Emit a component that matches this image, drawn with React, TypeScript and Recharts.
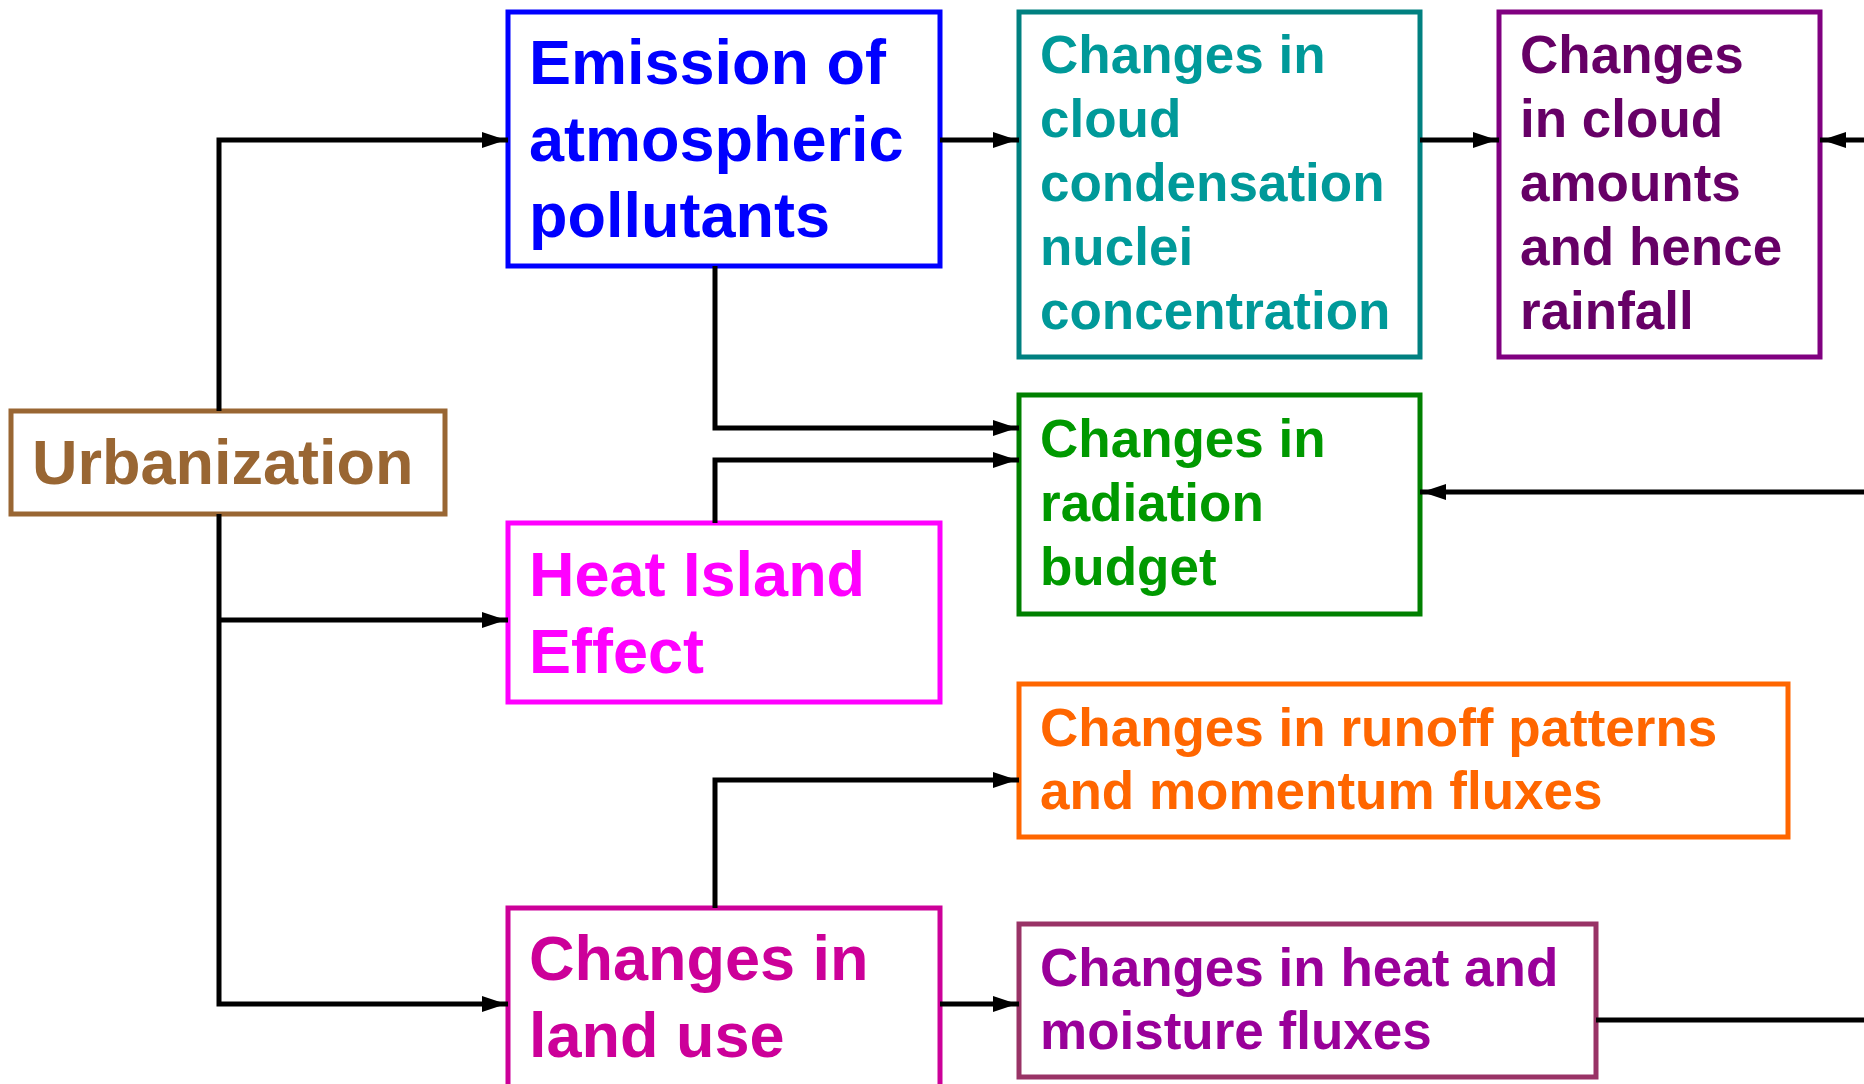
import { ComposedChart, Line, ReferenceArea, Scatter, XAxis, YAxis } from "recharts";

// diagram coordinates (same units as the picture, y grows downward)
const boxIds = ["urban", "emission", "heat", "land", "ccn", "cloud", "radiation", "runoff", "flux"];
const boxLeft = [11, 508, 508, 508, 1019, 1499, 1019, 1019, 1019];
const boxRight = [445, 940, 940, 940, 1420, 1820, 1420, 1788, 1596];
const boxTop = [411, 12, 523, 908, 12, 12, 395, 684, 924];
const boxBottom = [514, 266, 702, 1096, 357, 357, 614, 837, 1077];
const boxLines = [
  ["Urbanization"],
  ["Emission of", "atmospheric", "pollutants"],
  ["Heat Island", "Effect"],
  ["Changes in", "land use"],
  ["Changes in", "cloud", "condensation", "nuclei", "concentration"],
  ["Changes", "in cloud", "amounts", "and hence", "rainfall"],
  ["Changes in", "radiation", "budget"],
  ["Changes in runoff patterns", "and momentum fluxes"],
  ["Changes in heat and", "moisture fluxes"],
];

const connectors = [
  [{ x: 219, y: 411 }, { x: 219, y: 140 }, { x: 508, y: 140 }],
  [{ x: 219, y: 514 }, { x: 219, y: 1004 }, { x: 508, y: 1004 }],
  [{ x: 219, y: 620 }, { x: 508, y: 620 }],
  [{ x: 940, y: 140 }, { x: 1019, y: 140 }],
  [{ x: 1420, y: 140 }, { x: 1499, y: 140 }],
  [{ x: 1864, y: 140 }, { x: 1820, y: 140 }],
  [{ x: 715, y: 266 }, { x: 715, y: 428 }, { x: 1019, y: 428 }],
  [{ x: 715, y: 523 }, { x: 715, y: 460 }, { x: 1019, y: 460 }],
  [{ x: 1864, y: 492 }, { x: 1420, y: 492 }],
  [{ x: 715, y: 908 }, { x: 715, y: 780 }, { x: 1019, y: 780 }],
  [{ x: 940, y: 1004 }, { x: 1019, y: 1004 }],
  [{ x: 1596, y: 1020 }, { x: 1864, y: 1020 }],
];

const arrowHeads = [
  { x: 506, y: 140, dir: "r" },
  { x: 506, y: 620, dir: "r" },
  { x: 506, y: 1004, dir: "r" },
  { x: 1017, y: 140, dir: "r" },
  { x: 1497, y: 140, dir: "r" },
  { x: 1822, y: 140, dir: "l" },
  { x: 1017, y: 428, dir: "r" },
  { x: 1017, y: 460, dir: "r" },
  { x: 1422, y: 492, dir: "l" },
  { x: 1017, y: 780, dir: "r" },
  { x: 1017, y: 1004, dir: "r" },
];

const boxStyle: Record<string, { border: string; text: string; size: number; lh: number; first: number }> = {
  urban: { border: "#996633", text: "#996633", size: 63, lh: 76, first: 73 },
  emission: { border: "#0000FF", text: "#0000FF", size: 63, lh: 76.5, first: 72 },
  heat: { border: "#FF00FF", text: "#FF00FF", size: 63, lh: 77, first: 73 },
  land: { border: "#CC0099", text: "#CC0099", size: 63, lh: 77, first: 72 },
  ccn: { border: "#008080", text: "#009999", size: 53, lh: 64, first: 61 },
  cloud: { border: "#800080", text: "#660066", size: 53, lh: 64, first: 61 },
  radiation: { border: "#008000", text: "#009900", size: 53, lh: 64, first: 62 },
  runoff: { border: "#FF6600", text: "#FF6600", size: 53, lh: 63, first: 62 },
  flux: { border: "#993366", text: "#990099", size: 53, lh: 63, first: 62 },
};

function BoxText(props: any) {
  const { viewBox, lines, st } = props;
  if (!viewBox) return null;
  return (
    <text
      x={viewBox.x + 21}
      y={viewBox.y + st.first}
      fill={st.text}
      fontFamily="'Liberation Sans', Arial, sans-serif"
      fontWeight="bold"
      fontSize={st.size}
    >
      {lines.map((l: string, i: number) => (
        <tspan key={i} x={viewBox.x + 21} y={viewBox.y + st.first + i * st.lh}>
          {l}
        </tspan>
      ))}
    </text>
  );
}

function ArrowHead(props: any) {
  const { cx, cy, payload } = props;
  const len = 24;
  const hw = 8;
  const back = payload.dir === "r" ? cx - len : cx + len;
  return <polygon points={`${cx},${cy} ${back},${cy - hw} ${back},${cy + hw}`} fill="#000" />;
}

export default function App() {
  return (
    <div style={{ width: 1864, height: 1084, background: "#fff" }}>
      <style>{"body{margin:0}"}</style>
      <ComposedChart width={1864} height={1084} margin={{ top: 0, right: 0, bottom: 0, left: 0 }}>
        <XAxis type="number" dataKey="x" domain={[0, 1864]} hide />
        <YAxis type="number" dataKey="y" domain={[0, 1084]} reversed hide />
        {boxIds.map((id, i) => (
          <ReferenceArea
            key={id}
            x1={boxLeft[i]}
            x2={boxRight[i]}
            y1={boxTop[i]}
            y2={boxBottom[i]}
            ifOverflow="visible"
            fill="#fff"
            fillOpacity={1}
            stroke={boxStyle[id].border}
            strokeWidth={5}
            label={<BoxText lines={boxLines[i]} st={boxStyle[id]} />}
          />
        ))}
        {connectors.map((pts, i) => (
          <Line
            key={"c" + i}
            name={"c" + i}
            data={pts}
            dataKey="y"
            type="linear"
            stroke="#000"
            strokeWidth={5}
            dot={false}
            activeDot={false}
            isAnimationActive={false}
            legendType="none"
          />
        ))}
        <Scatter data={arrowHeads} dataKey="y" shape={ArrowHead} isAnimationActive={false} legendType="none" />
      </ComposedChart>
    </div>
  );
}
